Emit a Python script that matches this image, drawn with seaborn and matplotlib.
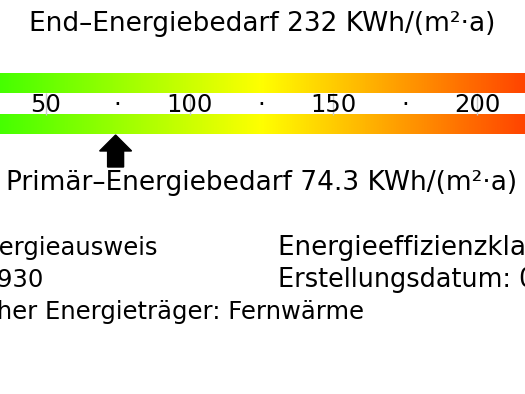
import matplotlib
matplotlib.use("Agg")
import matplotlib.pyplot as plt
import numpy as np
import seaborn as sns
from matplotlib.colors import LinearSegmentedColormap

# ---- data ----
scale_min = 0
scale_max = 250
tick_values = [0, 25, 50, 75, 100, 125, 150, 175, 200, 225, 250]
tick_labels = ["0", "·", "50", "·", "100", "·", "150", "·", "200", "·", "250"]
end_energy = 232
primary_energy = 74.3
gradient_colors = ["#00ff00", "#ffff00", "#ff0000"]
left_lines = ["Bedarfsenergieausweis", "Baujahr: 1930",
              "Wesentlicher Energieträger: Fernwärme"]
right_lines = ["Energieeffizienzklasse: B", "Erstellungsdatum: 01.01.2020"]

# ---- style ----
sns.set_theme(style="white")
plt.rcParams["font.family"] = ["DejaVu Sans"]

W, H = 525, 394
fig = plt.figure(figsize=(W / 100, H / 100), dpi=100)
ax = fig.add_axes([0, 0, 1, 1])
x_left, x_right = 34.12, 216.6
ax.set_xlim(x_left, x_right)
ax.set_ylim(H, 0)
ax.axis("off")
px_per_unit = W / (x_right - x_left)

cmap = LinearSegmentedColormap.from_list("energy", gradient_colors)
grad = np.linspace(scale_min, scale_max, 512).reshape(1, -1)
for top, bottom in [(72.5, 92.5), (114.5, 134.5)]:
    ax.imshow(grad, extent=(scale_min, scale_max, bottom, top), aspect="auto",
              cmap=cmap, vmin=scale_min, vmax=scale_max, interpolation="bilinear")

# tick lines and labels (only those inside the visible range)
for v, lab in zip(tick_values, tick_labels):
    if not (x_left + 5 < v < x_right - 5):
        continue
    if lab != "·":
        ax.vlines(v, 92.5, 114.5, color="#c8c8c8", lw=1, zorder=1)
    ax.text(v, 112, lab, ha="center", va="baseline", fontsize=17.5,
            color="black", zorder=2)

# arrows
def arrow(v, y_tip, direction):
    length = 32
    ax.arrow(v, y_tip - direction * length, 0, direction * length,
             width=16 / px_per_unit, head_width=32 / px_per_unit, head_length=16,
             length_includes_head=True, color="black", zorder=3)

arrow(primary_energy, 135, -1)
arrow(end_energy, 72, 1)

def ptext(x, y, s, fs=19, **kw):
    return fig.text(x / W, 1 - y / H, s, va="baseline", fontsize=fs,
                    color="black", **kw)

ptext(262.5, 31, f"End–Energiebedarf {end_energy} KWh/(m²·a)", ha="center")
ptext(262, 189.5, f"Primär–Energiebedarf {primary_energy} KWh/(m²·a)", ha="center")

# left column: the image is cropped, so each line starts left of the edge
renderer = fig.canvas.get_renderer()
FS_LEFT = 17.5
left_cut = [(9, -1), (10, -3), (9, -3)]  # (hidden prefix chars, px where rest starts)
for i, (s, (n, start)) in enumerate(zip(left_lines, left_cut)):
    probe = ptext(0, 0, s[:n], fs=FS_LEFT, ha="left")
    wpx = probe.get_window_extent(renderer).width
    probe.remove()
    ptext(start - wpx, 255 + 32 * i, s, fs=FS_LEFT, ha="left")

for i, (s, fs) in enumerate(zip(right_lines, [18.8, 18.4])):
    ptext(278, 255 + 32 * i, s, fs=fs, ha="left")

fig.savefig("out.png", dpi=100)
